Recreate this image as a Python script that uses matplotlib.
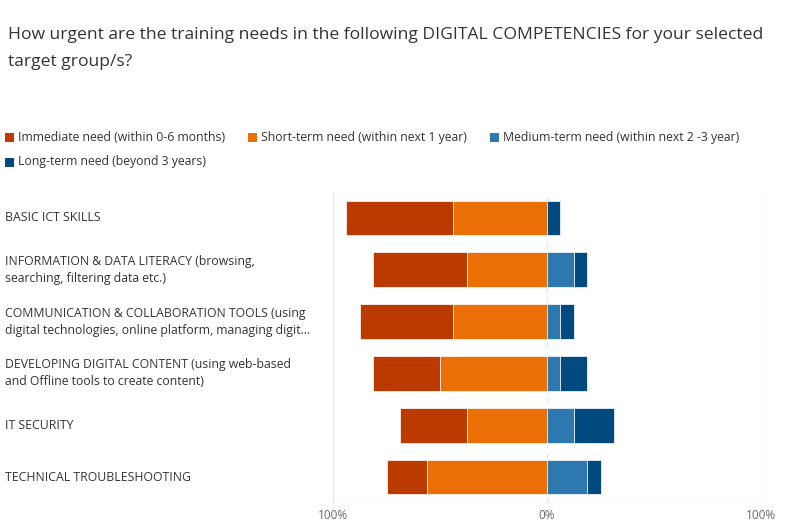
import matplotlib.pyplot as plt
from matplotlib.patches import Rectangle
from matplotlib.transforms import blended_transform_factory
import numpy as np

plt.rcParams['font.family'] = ['Open Sans', 'DejaVu Sans']

# data (percent of respondents)
categories = [
    "BASIC ICT SKILLS",
    "INFORMATION & DATA LITERACY (browsing,\nsearching, filtering data etc.)",
    "COMMUNICATION & COLLABORATION TOOLS (using\ndigital technologies, online platform, managing digit...",
    "DEVELOPING DIGITAL CONTENT (using web-based\nand Offline tools to create content)",
    "IT SECURITY",
    "TECHNICAL TROUBLESHOOTING",
]
immediate = [50.0, 43.75, 43.75, 31.25, 31.25, 18.75]
short_term = [43.75, 37.5, 43.75, 50.0, 37.5, 56.25]
medium_term = [0.0, 12.5, 6.25, 6.25, 12.5, 18.75]
long_term = [6.25, 6.25, 6.25, 12.5, 18.75, 6.25]

series_names = [
    "Immediate need (within 0-6 months)",
    "Short-term need (within next 1 year)",
    "Medium-term need (within next 2 -3 year)",
    "Long-term need (beyond 3 years)",
]
colors = ["#BA3A00", "#EB6F07", "#2D78AE", "#004A7F"]
text_color = "#333333"

fig = plt.figure(figsize=(7.98, 5.32), dpi=100)
ax = fig.add_axes([333 / 798, (532 - 503) / 532, (761 - 333) / 798, (503 - 192) / 532])

y = np.arange(len(categories))
imm = np.array(immediate)
sht = np.array(short_term)
med = np.array(medium_term)
lng = np.array(long_term)
h = 0.67
kw = dict(height=h, edgecolor="white", linewidth=0.5, zorder=3)

# negative side: short-term nearest zero, immediate beyond
ax.barh(y, -sht, left=0, color=colors[1], **kw)
ax.barh(y, -imm, left=-sht, color=colors[0], **kw)
# positive side
ax.barh(y, med, left=0, color=colors[2], **kw)
ax.barh(y, lng, left=med, color=colors[3], **kw)

ax.set_xlim(-100, 100)
ax.set_ylim(len(categories) - 0.5, -0.5)
ax.set_yticks([])
ax.set_xticks([-100, 0, 100])
ax.set_xticklabels(["100%", "0%", "100%"], color="#666666", fontsize=8.5)
ax.tick_params(axis="x", length=0, pad=4)
for s in ax.spines.values():
    s.set_visible(False)
ax.axhline(len(categories) - 0.5, color="#e6e6e6", linewidth=1, zorder=1)
ax.axvline(-100, color="#e6e6e6", linewidth=1, zorder=1)
ax.axvline(100, color="#e6e6e6", linewidth=1, zorder=1)
ax.axvline(0, color="#e6e6e6", linewidth=1, linestyle=(0, (4, 4)), zorder=1)

# category labels at the left edge of the figure
trans = blended_transform_factory(fig.transFigure, ax.transData)
for yi, cat in zip(y, categories):
    fig.text(5 / 798, yi, cat, transform=trans, ha="left", va="center",
             fontsize=8.8, color=text_color, linespacing=1.4)

# title
fig.text(8 / 798, 1 - 35 / 532, "How urgent are the training needs in the following DIGITAL COMPETENCIES for your selected",
         ha="left", va="center", fontsize=12.6, color=text_color)
fig.text(8 / 798, 1 - 62 / 532, "target group/s?", ha="left", va="center", fontsize=12.6, color=text_color)

# legend
leg_pos = [(5, 137), (248, 137), (490, 137), (5, 162)]
for (px, py), name, c in zip(leg_pos, series_names, colors):
    fig.patches.append(Rectangle((px / 798, 1 - (py + 4.5) / 532), 9 / 798, 9 / 532,
                                 transform=fig.transFigure, facecolor=c, edgecolor="none"))
    fig.text((px + 13) / 798, 1 - py / 532, name, ha="left", va="center",
             fontsize=8.8, color=text_color)

fig.savefig("out.png", dpi=100)
